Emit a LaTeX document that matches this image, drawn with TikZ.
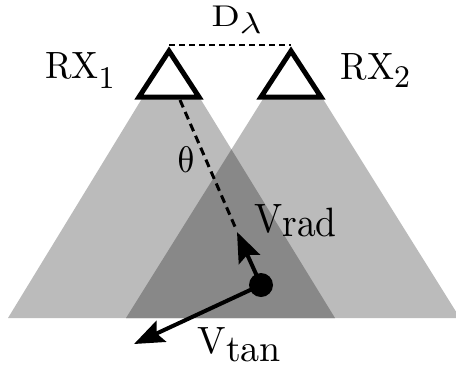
\documentclass[tikz,border=0pt]{standalone}
\usetikzlibrary{arrows.meta}
\definecolor{conelight}{RGB}{187,187,187}
\definecolor{conedark}{RGB}{136,136,136}
\tikzset{
  antenna/.style={line width=5pt, fill=white, line join=miter, draw=black},
  lbl/.style={anchor=base west, inner sep=0pt, font=\fontsize{10}{12}\selectfont},
  vec/.style={line width=4pt, -{Stealth[length=30pt,width=23pt,inset=5pt]}},
  guide/.style={line width=3pt, dash pattern=on 8pt off 5pt}
}
\begin{document}
\begin{tikzpicture}[x=1pt,y=-1pt]
\useasboundingbox (0,0) rectangle (456,373);
% beams
\fill[conelight] (171,51) -- (8,318) -- (335,318) -- cycle;
\fill[conelight] (293,51) -- (126,318) -- (460,318) -- cycle;
\begin{scope}
  \clip (171,51) -- (8,318) -- (335,318) -- cycle;
  \fill[conedark] (293,51) -- (126,318) -- (460,318) -- cycle;
\end{scope}
% baseline
\coordinate (a1) at (169,45);
\coordinate (a2) at (291,45);
\draw[line width=2pt, dash pattern=on 6pt off 4pt] (a1) -- (a2);
% antennas
\draw[antenna] (169,51) -- (139,97) -- (199,97) -- cycle;
\draw[antenna] (291,51) -- (261,97) -- (321,97) -- cycle;
% target and vectors
\node[circle, fill=black, minimum size=24pt, inner sep=0pt] (dot) at (261,285) {};
\coordinate (vradtip) at (237,232);
\coordinate (vtantip) at (134,344);
\coordinate (gstart) at (180,100);
\draw[guide] (gstart) -- (236,229);
\draw[vec] (dot.center) -- (vradtip);
\draw[vec] (dot.center) -- (vtantip);
% labels
\node[lbl] (rx1) at (45,78.3) {\scalebox{3.6}[3.8]{RX\raisebox{-2.6pt}{\fontsize{8.3}{9}\selectfont 1}}};
\node[lbl] (rx2) at (340.5,79.3) {\scalebox{3.6}[3.8]{RX\raisebox{-2.2pt}{\fontsize{8.3}{9}\selectfont 2}}};
\node[lbl] (dl) at (211.5,26.5) {\scalebox{3.7}[3.0]{D\raisebox{-2.4pt}{$\lambda$}}};
\begin{scope}[shift={(186,160)}]
  \node[inner sep=0pt, font=\fontsize{10}{12}\selectfont, xslant=-0.22, transform shape] (th) at (0,0) {\scalebox{3.7}{$\theta$}};
\end{scope}
\node[lbl] (vr) at (254,232.7) {\scalebox{3.75}[4.1]{V\raisebox{-1pt}{rad}}};
\node[lbl] (vt) at (197.3,353.3) {\scalebox{3.8}{V\raisebox{-2.2pt}{tan}}};
\end{tikzpicture}
\end{document}
